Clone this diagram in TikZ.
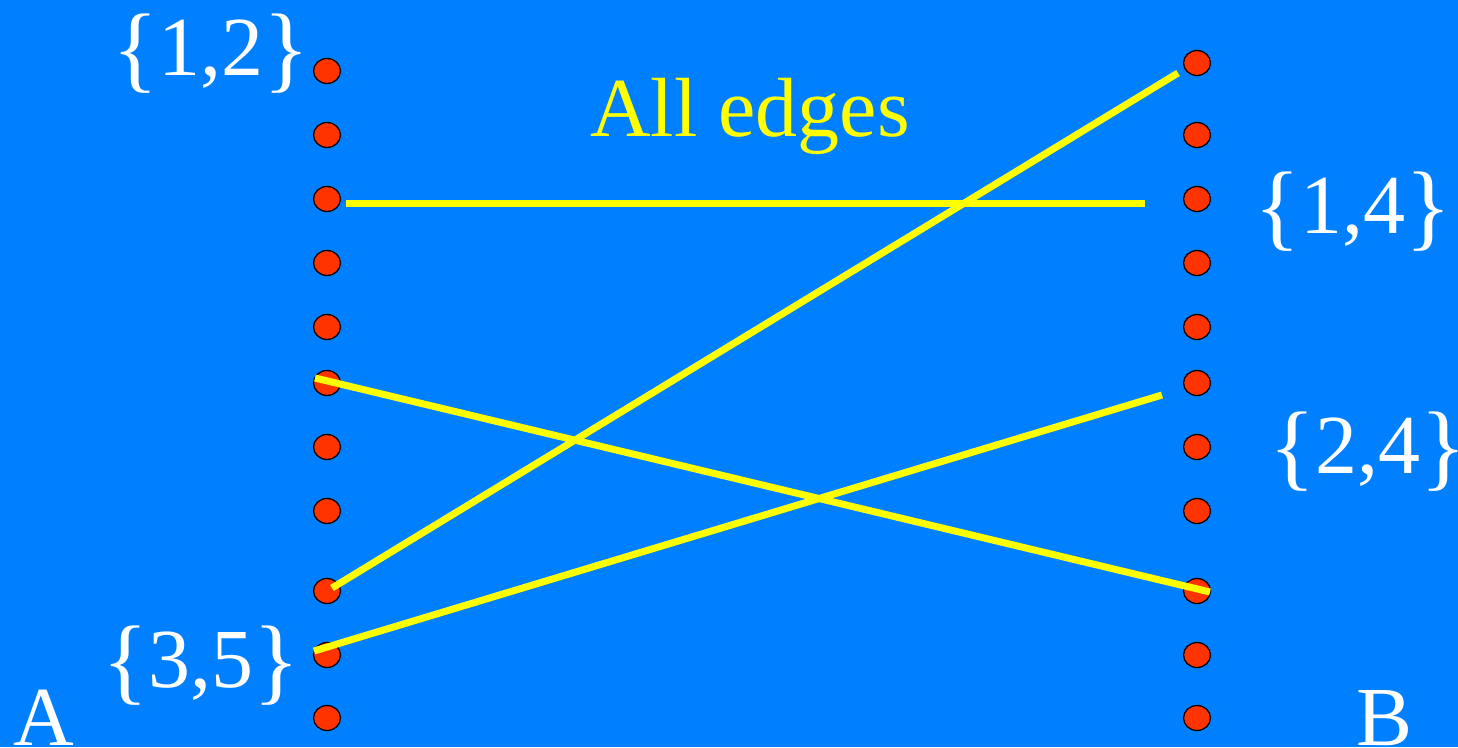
\documentclass[tikz,border=0pt]{standalone}
\usepackage{fontspec}
\setmainfont{Liberation Serif}
\usetikzlibrary{shapes.geometric}
\definecolor{bg}{RGB}{0,128,255}
\definecolor{dotred}{RGB}{255,51,0}
\definecolor{edgeyellow}{RGB}{255,255,0}
\newcommand\bigbrL{{\fontsize{96}{96}\selectfont\raisebox{-5.5pt}{\{}}}
\newcommand\bigbrR{{\fontsize{96}{96}\selectfont\raisebox{-5.5pt}{\}}}}
\begin{document}
\begin{tikzpicture}[x=1pt,y=-1pt,
  vdot/.style={ellipse,draw=black,line width=1.3pt,fill=dotred,minimum width=27pt,minimum height=25pt,inner sep=0pt},
  lbl/.style={text=white,font=\fontsize{84}{90}\selectfont,inner sep=0pt,anchor=base},
  ttl/.style={text=edgeyellow,font=\fontsize{84}{90}\selectfont,inner sep=0pt,anchor=base},
  edgeline/.style={draw=edgeyellow,line width=7pt}]
\fill[bg] (0,0) rectangle (1458,747);
\useasboundingbox (0,0) rectangle (1458,747);
% left column
\foreach \i/\y in {1/71,2/135,3/199,4/263,5/327,6/383,7/447,8/511,9/591,10/655,11/718}
  \node[vdot] (L\i) at (327,\y) {};
% right column
\foreach \i/\y in {1/63,2/135,3/199,4/263,5/327,6/383,7/447,8/511,9/591,10/655,11/718}
  \node[vdot] (R\i) at (1197,\y) {};
% labels
\node[lbl] (s12) at (211,75) {\bigbrL1,2\bigbrR};
\node[lbl] (s35) at (201,687) {\bigbrL3,5\bigbrR};
\node[lbl] (s14) at (1353,233) {\bigbrL1,4\bigbrR};
\node[lbl] (s24) at (1368,473) {\bigbrL2,4\bigbrR};
\node[lbl] (A) at (44,745) {A};
\node[lbl] (B) at (1384,745) {B};
\node[ttl] (title) at (750,136) {All edges};
% edge endpoints
\coordinate (e1s) at (346,203);
\coordinate (e1e) at (1145,203);
\coordinate (e2s) at (332,588);
\coordinate (e2e) at (1178,73);
\coordinate (e3s) at (315,378);
\coordinate (e3e) at (1210,592);
\coordinate (e4s) at (314,651);
\coordinate (e4e) at (1162,395);
\draw[edgeline] (e1s) -- (e1e);
\draw[edgeline] (e2s) -- (e2e);
\draw[edgeline] (e3s) -- (e3e);
\draw[edgeline] (e4s) -- (e4e);
\end{tikzpicture}
\end{document}
